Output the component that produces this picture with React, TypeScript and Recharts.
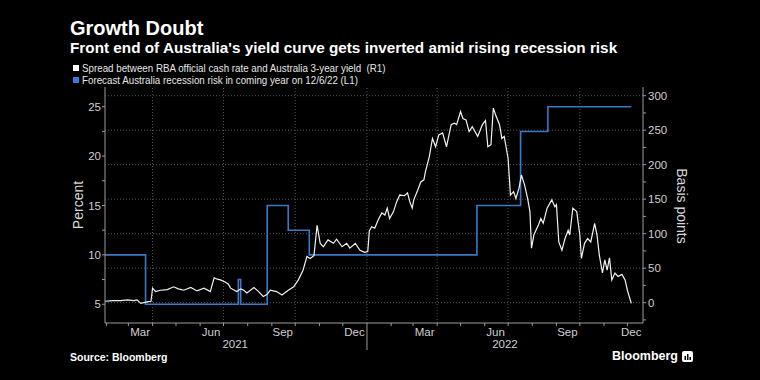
import React from "react";
import { ComposedChart, Line, XAxis, YAxis, ReferenceLine } from "recharts";

// spread between RBA cash rate and 3y yield, basis points (right axis)
const spreadBp: [string, number][] = [
  ["2021-01-30", 2], ["2021-02-09", 3], ["2021-02-19", 3], ["2021-02-28", 4],
  ["2021-03-08", 3], ["2021-03-12", 4], ["2021-03-17", -1], ["2021-03-25", 1],
  ["2021-03-30", 2], ["2021-04-01", 21], ["2021-04-05", 16], ["2021-04-11", 18],
  ["2021-04-20", 19], ["2021-04-28", 23], ["2021-05-04", 20], ["2021-05-11", 18],
  ["2021-05-20", 22], ["2021-05-28", 17], ["2021-06-06", 21], ["2021-06-14", 16],
  ["2021-06-19", 36], ["2021-06-23", 34], ["2021-06-27", 33], ["2021-07-03", 30],
  ["2021-07-07", 27], ["2021-07-10", 21], ["2021-07-18", 16], ["2021-07-23", 20],
  ["2021-07-27", 18], ["2021-07-31", 14], ["2021-08-09", 22], ["2021-08-15", 16],
  ["2021-08-21", 9], ["2021-08-26", 12], ["2021-08-30", 18], ["2021-09-07", 16],
  ["2021-09-14", 11], ["2021-09-22", 18], ["2021-09-29", 23], ["2021-10-05", 33],
  ["2021-10-11", 47], ["2021-10-16", 67], ["2021-10-20", 64], ["2021-10-25", 68],
  ["2021-10-29", 112], ["2021-11-02", 86], ["2021-11-06", 81], ["2021-11-12", 91],
  ["2021-11-19", 86], ["2021-11-23", 92], ["2021-11-30", 81], ["2021-12-06", 86],
  ["2021-12-10", 79], ["2021-12-17", 86], ["2021-12-23", 76], ["2021-12-29", 73],
  ["2022-01-02", 74], ["2022-01-04", 104], ["2022-01-07", 110], ["2022-01-11", 108],
  ["2022-01-15", 119], ["2022-01-20", 130], ["2022-01-24", 127], ["2022-01-27", 137],
  ["2022-01-30", 122], ["2022-02-04", 132], ["2022-02-08", 146], ["2022-02-12", 156],
  ["2022-02-18", 155], ["2022-02-22", 159], ["2022-02-25", 146], ["2022-02-28", 137],
  ["2022-03-02", 149], ["2022-03-07", 163], ["2022-03-11", 175], ["2022-03-15", 178],
  ["2022-03-17", 190], ["2022-03-22", 212], ["2022-03-26", 238], ["2022-03-30", 226],
  ["2022-04-03", 243], ["2022-04-08", 246], ["2022-04-13", 226], ["2022-04-19", 258],
  ["2022-04-23", 260], ["2022-04-26", 258], ["2022-05-01", 277], ["2022-05-04", 267],
  ["2022-05-08", 265], ["2022-05-12", 248], ["2022-05-16", 255], ["2022-05-23", 241],
  ["2022-05-29", 258], ["2022-06-02", 264], ["2022-06-05", 226], ["2022-06-09", 229],
  ["2022-06-12", 282], ["2022-06-15", 272], ["2022-06-20", 258], ["2022-06-23", 238],
  ["2022-06-26", 241], ["2022-07-01", 209], ["2022-07-04", 156], ["2022-07-08", 161],
  ["2022-07-11", 151], ["2022-07-15", 166], ["2022-07-18", 185], ["2022-07-22", 171],
  ["2022-07-26", 151], ["2022-07-29", 132], ["2022-07-31", 79], ["2022-08-03", 98],
  ["2022-08-09", 113], ["2022-08-12", 122], ["2022-08-15", 115], ["2022-08-20", 137],
  ["2022-08-26", 149], ["2022-08-30", 139], ["2022-09-01", 142], ["2022-09-04", 88],
  ["2022-09-08", 76], ["2022-09-12", 93], ["2022-09-16", 105], ["2022-09-18", 98],
  ["2022-09-22", 137], ["2022-09-27", 132], ["2022-10-01", 98], ["2022-10-03", 64],
  ["2022-10-07", 86], ["2022-10-11", 93], ["2022-10-15", 88], ["2022-10-20", 115],
  ["2022-10-23", 98], ["2022-10-26", 69], ["2022-10-30", 43], ["2022-11-02", 62],
  ["2022-11-05", 47], ["2022-11-08", 65], ["2022-11-11", 33], ["2022-11-15", 43],
  ["2022-11-19", 38], ["2022-11-24", 41], ["2022-11-28", 33], ["2022-12-01", 18],
  ["2022-12-06", -1],
];

// forecast recession risk, percent (left axis), step changes
const recessionRiskPct: [string, number][] = [
  ["2021-01-30", 10], ["2021-03-23", 5], ["2021-07-20", 7.5], ["2021-07-23", 5],
  ["2021-08-26", 15], ["2021-09-22", 12.5], ["2021-10-19", 10], ["2022-05-22", 15],
  ["2022-07-17", 22.5], ["2022-08-21", 25], ["2022-12-06", 25],
];

const xDomain = ["2021-01-30", "2022-12-21"];
const percentDomain = [3.1, 27];
const bpDomain = [-29.5, 312.6];

const monthTicks = [
  "2021-02-01", "2021-03-01", "2021-04-01", "2021-05-01", "2021-06-01", "2021-07-01",
  "2021-08-01", "2021-09-01", "2021-10-01", "2021-11-01", "2021-12-01", "2022-01-01",
  "2022-02-01", "2022-03-01", "2022-04-01", "2022-05-01", "2022-06-01", "2022-07-01",
  "2022-08-01", "2022-09-01", "2022-10-01", "2022-11-01", "2022-12-01",
];
const quarterGrid = [
  "2021-04-01", "2021-07-01", "2021-10-01", "2022-01-01", "2022-04-01", "2022-07-01", "2022-10-01",
];
const monthLabels: [string, string][] = [
  ["2021-03-16", "Mar"], ["2021-06-15", "Jun"], ["2021-09-15", "Sep"], ["2021-12-16", "Dec"],
  ["2022-03-16", "Mar"], ["2022-06-15", "Jun"], ["2022-09-15", "Sep"], ["2022-12-06", "Dec"],
];
const yearLabels: [string, string][] = [["2021-07-16", "2021"], ["2022-06-27", "2022"]];
const yearBreaks = ["2022-01-01"];

const percentTicks = [5, 7.5, 10, 12.5, 15, 17.5, 20, 22.5, 25];
const bpTicks = [-25, 0, 25, 50, 75, 100, 125, 150, 175, 200, 225, 250, 275, 300];
const bpGrid = [0, 50, 100, 150, 200, 250, 300];

const day = (s: string) => Date.parse(s + "T00:00:00Z");

const spreadData = spreadBp.map(([d, v]) => ({ t: day(d), v }));
const riskData = recessionRiskPct.map(([d, v]) => ({ t: day(d), v }));

const monthSet = new Set(monthTicks.map(day));
const breakSet = new Set(yearBreaks.map(day));
const monthLabelMap = new Map(monthLabels.map(([d, l]) => [day(d), l]));
const yearLabelMap = new Map(yearLabels.map(([d, l]) => [day(d), l]));
const xTicks = Array.from(
  new Set([...monthTicks, ...monthLabels.map((m) => m[0]), ...yearLabels.map((m) => m[0])].map(day))
).sort((a, b) => a - b);

const AXIS = "#9a9a9a";
const TEXT = "#cfcfcf";
const GRID = "#555555";
const SANS = '"Liberation Sans", Arial, sans-serif';
const TICK_FONT = 11.5;

function XTick(props: any) {
  const { x, y, payload } = props;
  const v = payload.value;
  const ml = monthLabelMap.get(v);
  const yl = yearLabelMap.get(v);
  return (
    <g>
      {monthSet.has(v) && <line x1={x} x2={x} y1={y} y2={y + 3} stroke={AXIS} />}
      {breakSet.has(v) && <line x1={x} x2={x} y1={y + 3} y2={y + 27} stroke={AXIS} />}
      {ml && (
        <text x={x} y={y + 13} textAnchor="middle" fill={TEXT} fontSize={TICK_FONT} fontFamily={SANS}>
          {ml}
        </text>
      )}
      {yl && (
        <text x={x} y={y + 25} textAnchor="middle" fill={TEXT} fontSize={TICK_FONT} fontFamily={SANS}>
          {yl}
        </text>
      )}
    </g>
  );
}

function LeftTick(props: any) {
  const { x, y, payload } = props;
  const major = payload.value % 5 === 0;
  return (
    <g>
      <line x1={x - 3} x2={x} y1={y} y2={y} stroke={AXIS} />
      {major && (
        <text x={x - 4} y={y} dy="0.36em" textAnchor="end" fill={TEXT} fontSize={TICK_FONT} fontFamily={SANS}>
          {payload.value}
        </text>
      )}
    </g>
  );
}

function RightTick(props: any) {
  const { x, y, payload } = props;
  const major = payload.value % 50 === 0;
  return (
    <g>
      <line x1={x} x2={x + 3} y1={y} y2={y} stroke={AXIS} />
      {major && (
        <text x={x + 5} y={y} dy="0.36em" textAnchor="start" fill={TEXT} fontSize={TICK_FONT} fontFamily={SANS}>
          {payload.value}
        </text>
      )}
    </g>
  );
}

// condensed look of the legend text
const legendText = {
  position: "absolute" as const,
  left: 82,
  color: "#e6e6e6",
  fontFamily: SANS,
  fontSize: 11.5,
  lineHeight: "12px",
  whiteSpace: "pre" as const,
  transform: "scaleX(0.85)",
  transformOrigin: "0 50%",
};

export default function App() {
  return (
    <div
      style={{
        position: "absolute",
        left: 0,
        top: 0,
        width: 760,
        height: 380,
        background: "#000",
        overflow: "hidden",
      }}
    >
      <div style={{ position: "absolute", left: 70, top: 18, color: "#fff", fontFamily: SANS, fontWeight: 700, fontSize: 20, lineHeight: "20px", whiteSpace: "nowrap" }}>
        Growth Doubt
      </div>
      <div style={{ position: "absolute", left: 70, top: 39.5, color: "#fff", fontFamily: SANS, fontWeight: 700, fontSize: 15.3, lineHeight: "15.3px", whiteSpace: "nowrap" }}>
        Front end of Australia's yield curve gets inverted amid rising recession risk
      </div>
      <div style={{ position: "absolute", left: 73, top: 65, width: 6, height: 6, background: "#fff" }} />
      <div style={{ ...legendText, top: 62 }}>
        {"Spread between RBA official cash rate and Australia 3-year yield  (R1)"}
      </div>
      <div style={{ position: "absolute", left: 73, top: 77, width: 6, height: 6, background: "#2f7de0" }} />
      <div style={{ ...legendText, top: 74 }}>
        {"Forecast Australia recession risk in coming year on 12/6/22 (L1)"}
      </div>

      <ComposedChart width={760} height={380} margin={{ top: 87, right: 60, bottom: 17, left: 60 }}>
        <XAxis
          xAxisId="x"
          type="number"
          dataKey="t"
          domain={[day(xDomain[0]), day(xDomain[1])]}
          allowDataOverflow
          ticks={xTicks}
          interval={0}
          tick={(p: any) => <XTick {...p} />}
          tickLine={false}
          tickSize={0}
          tickMargin={0}
          axisLine={{ stroke: AXIS }}
          height={40}
        />
        <YAxis
          yAxisId="left"
          orientation="left"
          type="number"
          domain={percentDomain}
          allowDataOverflow
          ticks={percentTicks}
          interval={0}
          tick={(p: any) => <LeftTick {...p} />}
          tickLine={false}
          tickSize={0}
          tickMargin={0}
          axisLine={{ stroke: AXIS }}
          width={45}
        />
        <YAxis
          yAxisId="right"
          orientation="right"
          type="number"
          domain={bpDomain}
          allowDataOverflow
          ticks={bpTicks}
          interval={0}
          tick={(p: any) => <RightTick {...p} />}
          tickLine={false}
          tickSize={0}
          tickMargin={0}
          axisLine={{ stroke: AXIS }}
          width={57}
        />
        {quarterGrid.map((d) => (
          <ReferenceLine
            key={"gx" + d}
            xAxisId="x"
            yAxisId="right"
            x={day(d)}
            stroke={GRID}
            strokeDasharray="1 2"
          />
        ))}
        {bpGrid.map((v) => (
          <ReferenceLine
            key={"gy" + v}
            xAxisId="x"
            yAxisId="right"
            y={v}
            stroke={GRID}
            strokeDasharray="1 2"
          />
        ))}
        <Line
          xAxisId="x"
          yAxisId="left"
          data={riskData}
          dataKey="v"
          type="stepAfter"
          stroke="#3b79c6"
          strokeWidth={1.6}
          dot={false}
          isAnimationActive={false}
        />
        <Line
          xAxisId="x"
          yAxisId="right"
          data={spreadData}
          dataKey="v"
          type="linear"
          stroke="#f2f2f2"
          strokeWidth={1.2}
          dot={false}
          isAnimationActive={false}
        />
      </ComposedChart>

      <div style={{ position: "absolute", left: 78.3, top: 205, transform: "translate(-50%, -50%) rotate(-90deg)", color: "#d9d9d9", fontFamily: SANS, fontSize: 14, whiteSpace: "nowrap" }}>
        Percent
      </div>
      <div style={{ position: "absolute", left: 681.7, top: 205.5, transform: "translate(-50%, -50%) rotate(90deg)", color: "#d9d9d9", fontFamily: SANS, fontSize: 14, whiteSpace: "nowrap" }}>
        Basis points
      </div>

      <div style={{ position: "absolute", left: 70, top: 352, color: "#fff", fontFamily: SANS, fontWeight: 700, fontSize: 10.5, lineHeight: "10.5px", whiteSpace: "nowrap" }}>
        Source: Bloomberg
      </div>
      <div style={{ position: "absolute", left: 612, top: 350, color: "#fff", fontFamily: SANS, fontWeight: 700, fontSize: 12.5, lineHeight: "13px", whiteSpace: "nowrap", display: "flex", alignItems: "center" }}>
        <span>Bloomberg</span>
        <svg width={11} height={11} style={{ marginLeft: 4 }}>
          <rect x={0} y={0} width={11} height={11} rx={2} fill="#fff" />
          <rect x={2.5} y={5} width={1.5} height={4} fill="#000" />
          <rect x={5} y={3} width={1.5} height={6} fill="#000" />
          <rect x={7.5} y={6} width={1.5} height={3} fill="#000" />
        </svg>
      </div>
    </div>
  );
}
